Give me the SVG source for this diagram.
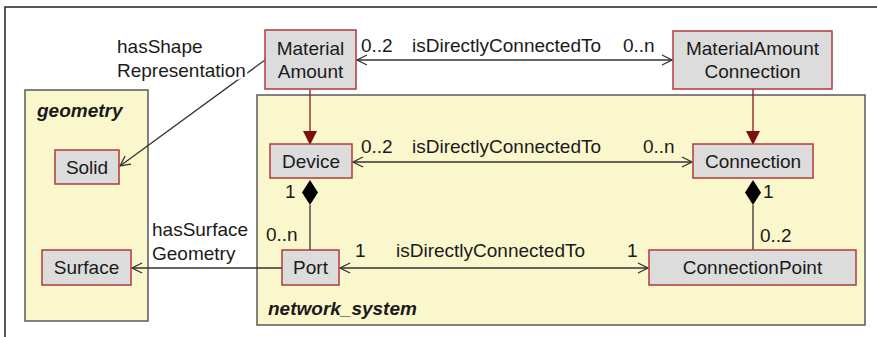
<svg xmlns="http://www.w3.org/2000/svg" width="877" height="337" viewBox="0 0 877 337">
<style>
text{font-family:"Liberation Sans",Arial,sans-serif;font-size:19px;fill:#1a1a1a}
.pkg{fill:#fbf7cd;stroke:#5a5a5a;stroke-width:1.5}
.pkglbl{font-weight:bold;font-style:italic}
.cls{fill:#dcdcdc;stroke:#b23a3a;stroke-width:1.5}
.c{text-anchor:middle}
.assoc{fill:none;stroke:#333;stroke-width:1.3}
.gen{fill:none;stroke:#8b1a1a;stroke-width:1.3}
.halo{stroke:#fff;stroke-width:5;paint-order:stroke;stroke-linejoin:round}
</style>
<defs>
<marker id="open" viewBox="0 0 12 12" refX="11" refY="6" markerWidth="12" markerHeight="12" markerUnits="userSpaceOnUse" orient="auto-start-reverse">
<path d="M1,1 L11,6 L1,11" fill="none" stroke="#333" stroke-width="1.3"/>
</marker>
<marker id="tri" viewBox="0 0 14 14" refX="13" refY="7" markerWidth="14" markerHeight="14" markerUnits="userSpaceOnUse" orient="auto">
<path d="M0,0 L14,7 L0,14 Z" fill="#7a1010"/>
</marker>
</defs>
<rect width="877" height="337" fill="#fff"/>
<path d="M5,337 V7 H877" fill="none" stroke="#222" stroke-width="1.5"/>

<g id="pkg-geometry">
<rect class="pkg" x="25" y="90" width="123" height="231"/>
<text class="pkglbl" x="37" y="117">geometry</text>
</g>
<g id="pkg-network_system">
<rect class="pkg" x="257" y="95" width="608" height="230"/>
<text class="pkglbl" x="268" y="315">network_system</text>
</g>

<g id="connectors">
<path class="assoc" d="M357,60 H672" marker-start="url(#open)" marker-end="url(#open)"/>
<path class="assoc" d="M353,162 H692" marker-start="url(#open)" marker-end="url(#open)"/>
<path class="assoc" d="M340,268 H648" marker-start="url(#open)" marker-end="url(#open)"/>
<path class="assoc" d="M282,268 H132" marker-end="url(#open)"/>
<path class="assoc" d="M265,60 L120,166" marker-end="url(#open)"/>
<path class="gen" d="M310,89 V144" marker-end="url(#tri)"/>
<path class="gen" d="M753,89 V144" marker-end="url(#tri)"/>
<path class="assoc" d="M310,205 V250"/>
<path d="M310,180 L318,192.5 L310,205 L302,192.5 Z" fill="#000"/>
<path class="assoc" d="M753,205 V250"/>
<path d="M753,180 L761,192.5 L753,205 L745,192.5 Z" fill="#000"/>
<text x="361" y="52">0..2</text>
<text x="412" y="52">isDirectlyConnectedTo</text>
<text x="623" y="52">0..n</text>
<text x="361" y="153">0..2</text>
<text x="412" y="153">isDirectlyConnectedTo</text>
<text x="643" y="153">0..n</text>
<text x="355" y="257">1</text>
<text x="396" y="257">isDirectlyConnectedTo</text>
<text x="627" y="257">1</text>
<text x="117" y="53">hasShape</text>
<text class="halo" x="117" y="77">Representation</text>
<text x="152" y="236">hasSurface</text>
<text x="152" y="260">Geometry</text>
<text x="285" y="198">1</text>
<text x="266" y="241">0..n</text>
<text x="763" y="198">1</text>
<text x="760" y="242">0..2</text>
</g>

<g id="MaterialAmount">
<rect class="cls" x="265" y="30" width="91" height="59"/>
<text class="c" x="310.5" y="55">Material</text>
<text class="c" x="310.5" y="78">Amount</text>
</g>
<g id="MaterialAmountConnection">
<rect class="cls" x="673" y="31" width="159" height="58"/>
<text class="c" x="752.5" y="55">MaterialAmount</text>
<text class="c" x="752.5" y="78">Connection</text>
</g>
<g id="Device">
<rect class="cls" x="270" y="144" width="82" height="34"/>
<text class="c" x="311" y="168">Device</text>
</g>
<g id="Connection">
<rect class="cls" x="693" y="144" width="120" height="34"/>
<text class="c" x="753" y="168">Connection</text>
</g>
<g id="Solid">
<rect class="cls" x="55" y="150" width="64" height="34"/>
<text class="c" x="87" y="174">Solid</text>
</g>
<g id="Surface">
<rect class="cls" x="42" y="250" width="89" height="35"/>
<text class="c" x="86.5" y="274">Surface</text>
</g>
<g id="Port">
<rect class="cls" x="282" y="250" width="57" height="35"/>
<text class="c" x="310.5" y="274">Port</text>
</g>
<g id="ConnectionPoint">
<rect class="cls" x="649" y="250" width="207" height="35"/>
<text class="c" x="752.5" y="274">ConnectionPoint</text>
</g>
</svg>
